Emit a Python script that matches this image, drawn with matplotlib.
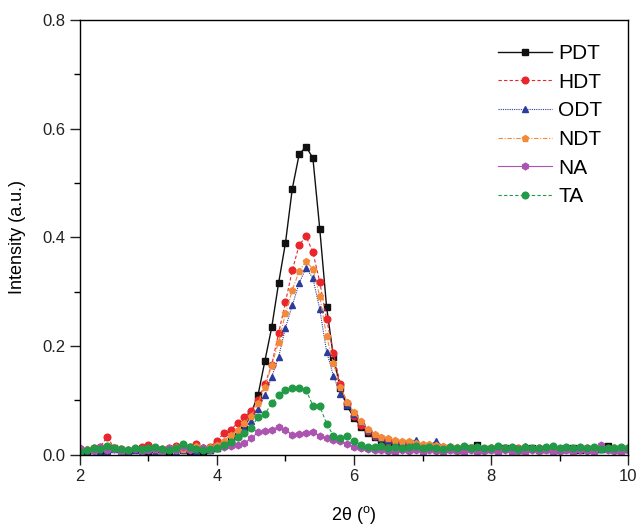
import numpy as np
import matplotlib
matplotlib.use("Agg")
import matplotlib.pyplot as plt
from matplotlib.ticker import MultipleLocator

plt.rcParams['font.family'] = ['Liberation Sans', 'DejaVu Sans']

# 2-theta sampling grid (0.1 deg steps)
two_theta = np.linspace(2.0, 10.0, 81)

pdt = [0.008, 0.006, 0.010, 0.007, 0.009, 0.012, 0.008, 0.006, 0.009, 0.011,
       0.007, 0.010, 0.008, 0.006, 0.012, 0.009, 0.007, 0.010, 0.004, 0.008,
       0.012, 0.018, 0.026, 0.035, 0.048, 0.077, 0.110, 0.173, 0.235, 0.316,
       0.390, 0.490, 0.553, 0.567, 0.546, 0.416, 0.272, 0.180, 0.122, 0.090,
       0.068, 0.052, 0.040, 0.033, 0.027, 0.023, 0.020, 0.018, 0.016, 0.014,
       0.013, 0.012, 0.012, 0.010, 0.011, 0.009, 0.010, 0.012, 0.018, 0.010,
       0.011, 0.009, 0.012, 0.010, 0.008, 0.011, 0.012, 0.009, 0.010, 0.011,
       0.009, 0.010, 0.012, 0.008, 0.011, 0.009, 0.010, 0.017, 0.011, 0.009,
       0.010]
hdt = [0.010, 0.008, 0.012, 0.015, 0.033, 0.012, 0.010, 0.008, 0.011, 0.014,
       0.018, 0.012, 0.010, 0.013, 0.016, 0.011, 0.014, 0.019, 0.012, 0.015,
       0.025, 0.040, 0.046, 0.058, 0.070, 0.080, 0.100, 0.130, 0.166, 0.224,
       0.281, 0.340, 0.386, 0.402, 0.373, 0.318, 0.250, 0.187, 0.130, 0.095,
       0.072, 0.055, 0.043, 0.035, 0.030, 0.026, 0.023, 0.021, 0.019, 0.017,
       0.015, 0.014, 0.013, 0.014, 0.012, 0.013, 0.011, 0.012, 0.013, 0.011,
       0.012, 0.010, 0.013, 0.011, 0.012, 0.010, 0.011, 0.013, 0.010, 0.012,
       0.011, 0.012, 0.010, 0.011, 0.013, 0.010, 0.012, 0.011, 0.010, 0.012,
       0.011]
odt = [0.006, 0.004, 0.008, 0.005, 0.007, 0.010, 0.006, 0.005, 0.008, 0.006,
       0.009, 0.005, 0.007, 0.010, 0.006, 0.008, 0.012, 0.007, 0.014, 0.009,
       0.012, 0.020, 0.028, 0.038, 0.050, 0.062, 0.085, 0.110, 0.144, 0.180,
       0.234, 0.275, 0.316, 0.344, 0.325, 0.268, 0.190, 0.145, 0.112, 0.092,
       0.075, 0.062, 0.046, 0.037, 0.031, 0.028, 0.026, 0.024, 0.022, 0.028,
       0.019, 0.017, 0.026, 0.015, 0.014, 0.013, 0.012, 0.013, 0.011, 0.012,
       0.010, 0.011, 0.012, 0.010, 0.011, 0.016, 0.012, 0.010, 0.011, 0.009,
       0.010, 0.011, 0.009, 0.010, 0.012, 0.009, 0.010, 0.011, 0.009, 0.010,
       0.010]
ndt = [0.009, 0.011, 0.008, 0.012, 0.010, 0.014, 0.011, 0.009, 0.012, 0.010,
       0.013, 0.011, 0.009, 0.012, 0.015, 0.010, 0.013, 0.016, 0.012, 0.014,
       0.018, 0.026, 0.036, 0.046, 0.058, 0.072, 0.095, 0.125, 0.165, 0.208,
       0.260, 0.303, 0.338, 0.356, 0.342, 0.292, 0.218, 0.168, 0.125, 0.098,
       0.078, 0.062, 0.048, 0.038, 0.032, 0.030, 0.028, 0.026, 0.025, 0.022,
       0.020, 0.019, 0.018, 0.017, 0.016, 0.015, 0.016, 0.014, 0.015, 0.013,
       0.014, 0.015, 0.013, 0.014, 0.012, 0.014, 0.013, 0.012, 0.014, 0.013,
       0.012, 0.013, 0.012, 0.014, 0.012, 0.013, 0.012, 0.013, 0.014, 0.013,
       0.014]
na = [0.012, 0.009, 0.007, 0.014, 0.008, 0.010, 0.006, 0.009, 0.011, 0.007,
      0.008, 0.010, 0.006, 0.012, 0.009, 0.014, 0.008, 0.011, 0.013, 0.009,
      0.012, 0.014, 0.016, 0.018, 0.022, 0.030, 0.042, 0.044, 0.046, 0.052,
      0.046, 0.037, 0.039, 0.040, 0.042, 0.035, 0.030, 0.028, 0.025, 0.020,
      0.015, 0.012, 0.010, 0.009, 0.008, 0.007, 0.006, 0.008, 0.007, 0.009,
      0.006, 0.008, 0.007, 0.005, 0.009, 0.007, 0.006, 0.008, 0.006, 0.007,
      0.009, 0.006, 0.008, 0.005, 0.007, 0.006, 0.009, 0.007, 0.008, 0.006,
      0.007, 0.009, 0.006, 0.008, 0.007, 0.006, 0.018, 0.008, 0.007, 0.006,
      0.008]
ta = [0.005, 0.008, 0.012, 0.010, 0.016, 0.013, 0.011, 0.009, 0.012, 0.010,
      0.013, 0.015, 0.011, 0.009, 0.012, 0.019, 0.014, 0.010, 0.008, 0.011,
      0.013, 0.018, 0.024, 0.032, 0.040, 0.050, 0.070, 0.075, 0.095, 0.110,
      0.120, 0.123, 0.123, 0.120, 0.090, 0.090, 0.057, 0.035, 0.030, 0.035,
      0.025, 0.018, 0.015, 0.014, 0.016, 0.013, 0.015, 0.012, 0.014, 0.016,
      0.012, 0.015, 0.013, 0.011, 0.014, 0.012, 0.016, 0.013, 0.015, 0.012,
      0.013, 0.016, 0.012, 0.014, 0.011, 0.015, 0.013, 0.012, 0.014, 0.016,
      0.012, 0.014, 0.013, 0.015, 0.012, 0.014, 0.011, 0.013, 0.012, 0.014,
      0.013]

labels = ['PDT', 'HDT', 'ODT', 'NDT', 'NA', 'TA']
series = [pdt, hdt, odt, ndt, na, ta]
colors = ['#111111', '#e8262c', '#2c3c9c', '#f28a3a', '#ab55b0', '#229a48']
markers = ['s', 'o', '^', 'p', 'h', 'o']
styles = ['-', (0, (3, 2)), (0, (1, 1)), (0, (4, 1.5, 1, 1.5)), '-', (0, (3, 2))]

fig = plt.figure(figsize=(6.39, 5.27), dpi=100)
ax = fig.add_axes([0.125, 0.137, 0.858, 0.825])

for lab, y, c, m, ls in zip(labels, series, colors, markers, styles):
    ax.plot(two_theta, y, color=c, ls=ls, lw=1.0 if lab == 'PDT' else 0.8,
            marker=m, ms=4.8, mec=c, mfc=c, label=lab)

ax.set_xlim(2, 10)
ax.set_ylim(0, 0.8)
ax.xaxis.set_major_locator(MultipleLocator(2))
ax.xaxis.set_minor_locator(MultipleLocator(1))
ax.yaxis.set_major_locator(MultipleLocator(0.2))
ax.yaxis.set_minor_locator(MultipleLocator(0.1))
ax.yaxis.set_major_formatter(matplotlib.ticker.FormatStrFormatter('%.1f'))
ax.tick_params(which='major', direction='out', length=7, width=1,
               labelsize=12, colors='#222222')
ax.tick_params(which='minor', direction='out', length=4.5, width=1)
for s in ax.spines.values():
    s.set_linewidth(1.0)

ax.set_xlabel('2θ (' + r'$^{\mathregular{o}}$' + ')', fontsize=13, labelpad=14)
ax.set_ylabel('Intensity (a.u.)', fontsize=13, labelpad=12)

ax.legend(loc='upper right', frameon=False, fontsize=15, handlelength=2.6,
          labelspacing=0.46, handletextpad=0.3, borderaxespad=0.3,
          bbox_to_anchor=(0.98, 0.978))

fig.savefig('out.png', dpi=100)
